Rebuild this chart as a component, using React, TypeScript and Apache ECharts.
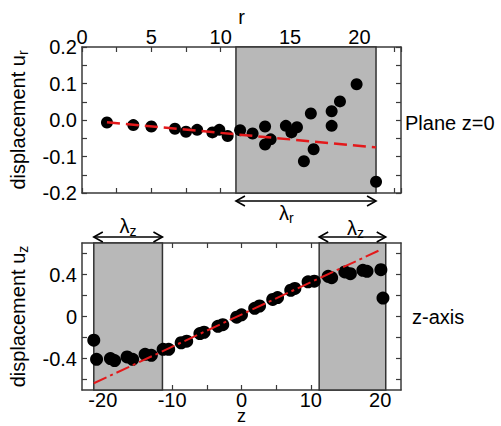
import React, { useEffect, useRef } from "react";
import * as echarts from "echarts";

// ---- data ----
const rVals = [1.8, 3.7, 5.0, 6.7, 7.5, 8.3, 9.4, 9.9, 10.5, 11.4, 12.3, 13.2, 13.2, 13.6, 14.7, 15.1, 15.5, 16.0, 16.5, 16.7, 18.0, 18.0, 18.6, 19.8, 21.2];
const urVals = [-0.007, -0.014, -0.018, -0.024, -0.032, -0.027, -0.034, -0.027, -0.044, -0.028, -0.037, -0.018, -0.067, -0.053, -0.016, -0.034, -0.02, -0.113, 0.018, -0.08, 0.024, -0.016, 0.051, 0.098, -0.169];
const rFitX = [1.8, 21.2];
const rFitY = [-0.0063, -0.075];

const zVals = [-21.3, -20.9, -18.9, -18.3, -16.5, -15.7, -13.9, -13.0, -11.3, -10.5, -8.7, -7.9, -6.0, -5.4, -3.4, -2.7, -0.7, 0.0, 1.9, 2.6, 4.5, 5.2, 7.1, 7.7, 9.6, 10.5, 12.5, 13.0, 14.9, 15.7, 17.5, 18.1, 20.1, 20.4];
const uzVals = [-0.226, -0.408, -0.401, -0.42, -0.385, -0.408, -0.36, -0.37, -0.313, -0.313, -0.25, -0.235, -0.163, -0.15, -0.094, -0.078, -0.006, 0.016, 0.078, 0.1, 0.163, 0.18, 0.25, 0.267, 0.33, 0.336, 0.383, 0.37, 0.424, 0.408, 0.44, 0.43, 0.446, 0.176];
const zFitX = [-21.3, 20.0];
const zFitY = [-0.636, 0.634];

const lambdaR = [11.1, 21.2];
const lambdaZLeft = [-21.3, -11.4];
const lambdaZRight = [11.2, 20.8];

const zTicks = [-20, -15, -10, -5, 0, 5, 10, 15, 20];
const zLabels = [-20, -10, 0, 10, 20];
const uzTicks = [-0.6, -0.4, -0.2, 0, 0.2, 0.4, 0.6];
const uzLabels = [-0.4, 0, 0.4];

const FONT = "'Liberation Sans', Arial, Helvetica, sans-serif";
const FS = 20;
const SUB = 14;
const AX = "#3a3a3a";
const RED = "#e3191b";
const SHADE = "#b8b8b8";

export default function App() {
  const ref = useRef<HTMLDivElement>(null);
  useEffect(() => {
    if (!ref.current) return;
    const chart = echarts.init(ref.current, null, { renderer: "svg" });
    const axisLine = { show: true, onZero: false, lineStyle: { color: AX, width: 1.5 } };
    const tick = { show: true, inside: true, length: 5, lineStyle: { color: AX, width: 1.2 } };
    const label = { color: "#000", fontSize: FS, fontFamily: FONT };
    const nameRich = {
      a: { fontSize: FS, fontFamily: FONT, color: "#000" },
      b: { fontSize: SUB, fontFamily: FONT, color: "#000", padding: [10, 0, 0, 0] },
    };
    const shadeStyle = { color: SHADE, borderColor: "#333", borderWidth: 1.5 };
    const option: any = {
      animation: false,
      grid: [
        { left: 82, top: 47, width: 319, height: 146, outerBoundsMode: "none", containLabel: false },
        { left: 82, top: 243, width: 319, height: 147, outerBoundsMode: "none", containLabel: false },
      ],
      xAxis: [
        {
          gridIndex: 0, type: "value", position: "top", min: 0, max: 23, interval: 2.5,
          axisLine, axisTick: tick, splitLine: { show: false },
          axisLabel: { ...label, margin: 0, formatter: (v: number) => (Math.abs(v % 5) < 1e-6 ? String(v) : "") },
          name: "r", nameLocation: "middle", nameGap: 20, nameMoveOverlap: false,
          nameTextStyle: { fontSize: FS, fontFamily: FONT, color: "#000" },
        },
        {
          gridIndex: 0, type: "value", position: "bottom", min: 0, max: 23, interval: 2.5,
          axisLine, axisTick: tick, splitLine: { show: false }, axisLabel: { show: false },
        },
        {
          gridIndex: 1, type: "value", position: "bottom", min: -23, max: 23,
          axisLine, axisTick: { ...tick, customValues: zTicks }, splitLine: { show: false },
          axisLabel: { ...label, margin: 1, lineHeight: 18, customValues: zLabels },
          name: "z", nameLocation: "middle", nameGap: 18, nameMoveOverlap: false,
          nameTextStyle: { fontSize: 18, lineHeight: 16, fontFamily: FONT, color: "#000" },
        },
        {
          gridIndex: 1, type: "value", position: "top", min: -23, max: 23,
          axisLine, axisTick: { ...tick, customValues: zTicks }, splitLine: { show: false }, axisLabel: { show: false },
        },
      ],
      yAxis: [
        {
          gridIndex: 0, type: "value", position: "left", min: -0.2, max: 0.2, interval: 0.05,
          axisLine, axisTick: tick, splitLine: { show: false },
          axisLabel: {
            ...label, margin: 5,
            formatter: (v: number) => {
              const k = Math.round(v * 20);
              return k % 2 === 0 ? (Math.round(v * 10) / 10 + 0).toFixed(1) : "";
            },
          },
          name: "{a|displacement u}{b|r}", nameLocation: "middle", nameGap: 52, nameRotate: 90, nameMoveOverlap: false,
          nameTextStyle: { rich: nameRich },
        },
        {
          gridIndex: 0, type: "value", position: "right", min: -0.2, max: 0.2, interval: 0.05,
          axisLine, axisTick: tick, splitLine: { show: false }, axisLabel: { show: false },
        },
        {
          gridIndex: 1, type: "value", position: "left", min: -0.7, max: 0.7,
          axisLine, axisTick: { ...tick, customValues: uzTicks }, splitLine: { show: false },
          axisLabel: { ...label, margin: 5, customValues: uzLabels },
          name: "{a|displacement u}{b|z}", nameLocation: "middle", nameGap: 52, nameRotate: 90, nameMoveOverlap: false,
          nameTextStyle: { rich: nameRich },
        },
        {
          gridIndex: 1, type: "value", position: "right", min: -0.7, max: 0.7,
          axisLine, axisTick: { ...tick, customValues: uzTicks }, splitLine: { show: false }, axisLabel: { show: false },
        },
      ],
      series: [
        {
          type: "scatter", xAxisIndex: 0, yAxisIndex: 0, symbolSize: 12,
          itemStyle: { color: "#000", opacity: 1 }, z: 3,
          data: rVals.map((r, i) => [r, urVals[i]]),
          markArea: { silent: true, itemStyle: shadeStyle, data: [[{ xAxis: lambdaR[0] }, { xAxis: lambdaR[1] }]] },
        },
        {
          type: "line", xAxisIndex: 0, yAxisIndex: 0, symbol: "none", z: 4,
          lineStyle: { color: RED, width: 2.5, type: [13, 6] },
          data: rFitX.map((r, i) => [r, rFitY[i]]),
        },
        {
          type: "scatter", xAxisIndex: 2, yAxisIndex: 2, symbolSize: 13,
          itemStyle: { color: "#000", opacity: 1 }, z: 3,
          data: zVals.map((z, i) => [z, uzVals[i]]),
          markArea: {
            silent: true, itemStyle: shadeStyle,
            data: [
              [{ xAxis: lambdaZLeft[0] }, { xAxis: lambdaZLeft[1] }],
              [{ xAxis: lambdaZRight[0] }, { xAxis: lambdaZRight[1] }],
            ],
          },
        },
        {
          type: "line", xAxisIndex: 2, yAxisIndex: 2, symbol: "none", z: 4,
          lineStyle: { color: RED, width: 2, type: [14, 4, 3, 4] },
          data: zFitX.map((z, i) => [z, zFitY[i]]),
        },
      ],
    };
    chart.setOption(option);

    const px = (grid: number, x: number, y: number) =>
      chart.convertToPixel({ xAxisIndex: grid === 0 ? 0 : 2, yAxisIndex: grid === 0 ? 0 : 2 }, [x, y]) as number[];

    const arrow = (x0: number, x1: number, y: number) => {
      const s = { stroke: "#000", lineWidth: 1.6, fill: null };
      return [
        { type: "line", shape: { x1: x0, y1: y, x2: x1, y2: y }, style: s, z: 10 },
        { type: "polyline", shape: { points: [[x0 + 9, y - 5], [x0, y], [x0 + 9, y + 5]] }, style: s, z: 10 },
        { type: "polyline", shape: { points: [[x1 - 9, y - 5], [x1, y], [x1 - 9, y + 5]] }, style: s, z: 10 },
      ];
    };
    const lam = (x: number, y: number, sub: string) => ({
      type: "text", x, y, z: 10,
      style: {
        text: `{l|λ}{s|${sub}}`, align: "center", verticalAlign: "middle",
        rich: {
          l: { fontSize: FS, fontFamily: FONT, fill: "#000" },
          s: { fontSize: SUB, fontFamily: FONT, fill: "#000", padding: [9, 0, 0, 0] },
        },
      },
    });

    const tA = px(0, lambdaR[0], -0.2);
    const tB = px(0, lambdaR[1], -0.2);
    const topY = tA[1] + 8;
    const lA = px(1, lambdaZLeft[0], 0.7);
    const lB = px(1, lambdaZLeft[1], 0.7);
    const rA = px(1, lambdaZRight[0], 0.7);
    const rB = px(1, lambdaZRight[1], 0.7);
    const botY = lA[1] - 6;
    const midTop = px(0, 23, 0);
    const midBot = px(1, 23, 0);

    const graphic: any[] = [
      ...arrow(tA[0], tB[0], topY),
      lam(tA[0] + 0.36 * (tB[0] - tA[0]), topY + 12, "r"),
      ...arrow(lA[0], lB[0], botY),
      lam((lA[0] + lB[0]) / 2, botY - 11, "z"),
      ...arrow(rA[0], rB[0], botY),
      lam((rA[0] + rB[0]) / 2 + 3, botY - 9, "z"),
      {
        type: "text", x: midTop[0] + 4, y: midTop[1] + 3, z: 10,
        style: { text: "Plane z=0", fontSize: FS, fontFamily: FONT, fill: "#000", align: "left", verticalAlign: "middle" },
      },
      {
        type: "text", x: midBot[0] + 11, y: midBot[1], z: 10,
        style: { text: "z-axis", fontSize: FS, fontFamily: FONT, fill: "#000", align: "left", verticalAlign: "middle" },
      },
    ];
    chart.setOption({ graphic });

    return () => chart.dispose();
  }, []);
  return <div ref={ref} style={{ width: 501, height: 426, position: "absolute", left: 0, top: 0 }} />;
}
